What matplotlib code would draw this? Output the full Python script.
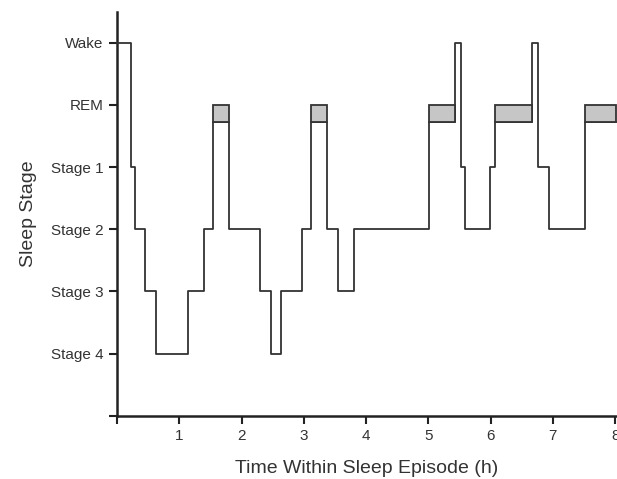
import matplotlib
matplotlib.use('Agg')
import matplotlib.pyplot as plt

# hypnogram: stage starts (h) and stage names
times = [0, 0.22, 0.29, 0.45, 0.63, 1.14, 1.39, 1.55, 1.80, 2.30, 2.47, 2.63,
         2.97, 3.12, 3.38, 3.55, 3.81, 5.01, 5.43, 5.52, 5.59, 5.99, 6.07, 6.67,
         6.76, 6.94, 7.52, 8.01]
stages = ['Wake', 'Stage 1', 'Stage 2', 'Stage 3', 'Stage 4', 'Stage 3',
          'Stage 2', 'REM', 'Stage 2', 'Stage 3', 'Stage 4', 'Stage 3',
          'Stage 2', 'REM', 'Stage 2', 'Stage 3', 'Stage 2', 'REM', 'Wake',
          'Stage 1', 'Stage 2', 'Stage 1', 'REM', 'Wake', 'Stage 1', 'Stage 2',
          'REM']
stage_names = ['Stage 4', 'Stage 3', 'Stage 2', 'Stage 1', 'REM', 'Wake']
x_ticks = [0, 1, 2, 3, 4, 5, 6, 7, 8]
rem_low = 4.72  # REM line sits a bit under the REM tick, box fills the rest

plt.rcParams['font.family'] = ['Liberation Sans', 'DejaVu Sans']

level = {name: i + 1 for i, name in enumerate(stage_names)}
levels = [rem_low if s == 'REM' else level[s] for s in stages]

fig = plt.figure(figsize=(6.17, 4.79), dpi=100)
ax = fig.add_axes([0.1896, 0.1322, 0.8104, 0.8436])

ax.step(times, levels + [levels[-1]], where='post', color='#333333',
        lw=1.3, clip_on=False, zorder=3)

# grey REM boxes
for k, s in enumerate(stages):
    if s == 'REM':
        ax.bar(times[k], level['REM'] - rem_low, bottom=rem_low,
               width=times[k + 1] - times[k], align='edge', color='#c6c6c6',
               edgecolor='#333333', linewidth=1.3, clip_on=False, zorder=4)

ax.set_xlim(0, 8.03)
ax.set_ylim(0, 6.5)
ax.set_xticks(x_ticks)
ax.set_xticklabels([''] + [str(t) for t in x_ticks[1:]])
ax.set_yticks(range(7))
ax.set_yticklabels([''] + stage_names)

for side in ['top', 'right']:
    ax.spines[side].set_visible(False)
for side in ['left', 'bottom']:
    ax.spines[side].set_linewidth(1.8)
    ax.spines[side].set_color('#222222')
ax.tick_params(direction='out', length=5.5, width=1.5, color='#222222',
               labelsize=11, labelcolor='#333333', pad=4)

ax.set_xlabel('Time Within Sleep Episode (h)', fontsize=14, color='#333333',
              labelpad=12)
ax.set_ylabel('Sleep Stage', fontsize=14, color='#333333', labelpad=10)

fig.savefig('out.png', dpi=100)
